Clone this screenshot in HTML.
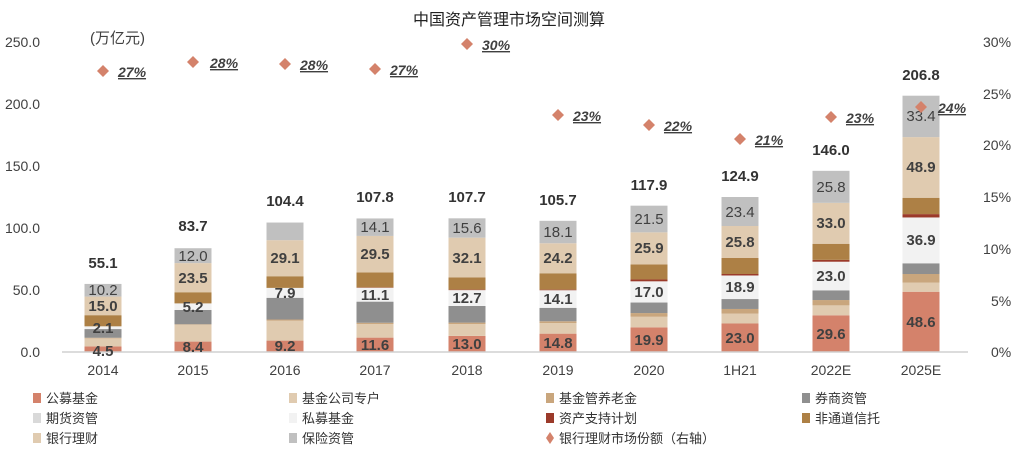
<!DOCTYPE html>
<html><head><meta charset="utf-8"><style>
body{margin:0;background:#fff;}
svg{display:block;font-family:"Liberation Sans","Noto Sans CJK SC",sans-serif;}
.v{font-size:15px;font-weight:bold;fill:#404040;text-anchor:middle;}
.n{font-size:15px;fill:#404040;text-anchor:middle;}
.t{font-size:15px;font-weight:bold;fill:#333;text-anchor:middle;}
.p{font-size:14px;font-weight:bold;font-style:italic;fill:#404040;text-decoration:underline;}
.ax{font-size:14px;fill:#404040;}
.lg{font-size:13px;fill:#333;}
</style></head><body>
<svg id="s" width="1014" height="449" viewBox="0 0 1014 449">
<text x="509" y="25" text-anchor="middle" style="font-size:16px;fill:#222">中国资产管理市场空间测算</text>
<text x="90" y="43" class="ax" style="font-size:15px">(万亿元)</text>
<g id="bars"></g>
<line x1="62" y1="352" x2="968" y2="352" stroke="#d0d0d0" stroke-width="1.5"/>
<g class="ax" text-anchor="end">
<text x="40" y="47">250.0</text><text x="40" y="109">200.0</text><text x="40" y="171">150.0</text>
<text x="40" y="233">100.0</text><text x="40" y="295">50.0</text><text x="40" y="357">0.0</text>
</g>
<g class="ax">
<text x="983" y="47">30%</text><text x="983" y="99">25%</text><text x="983" y="150">20%</text>
<text x="983" y="202">15%</text><text x="983" y="254">10%</text><text x="991" y="306">5%</text><text x="991" y="357">0%</text>
</g>
<g class="ax" text-anchor="middle">
<text x="103" y="375">2014</text><text x="193" y="375">2015</text><text x="285" y="375">2016</text>
<text x="375" y="375">2017</text><text x="467" y="375">2018</text><text x="558" y="375">2019</text>
<text x="649" y="375">2020</text><text x="740" y="375">1H21</text><text x="831" y="375">2022E</text><text x="921" y="375">2025E</text>
</g>
<text x="103" y="356" class="v">4.5</text><text x="103" y="333" class="v">2.1</text><text x="103" y="311" class="v">15.0</text><text x="103" y="295" class="n">10.2</text><text x="103" y="268" class="t">55.1</text>
<text x="193" y="352" class="v">8.4</text><text x="193" y="312" class="v">5.2</text><text x="193" y="283" class="v">23.5</text><text x="193" y="261" class="n">12.0</text><text x="193" y="231" class="t">83.7</text>
<text x="285" y="351" class="v">9.2</text><text x="285" y="298" class="v">7.9</text><text x="285" y="263" class="v">29.1</text><text x="285" y="206" class="t">104.4</text>
<text x="375" y="350" class="v">11.6</text><text x="375" y="300" class="v">11.1</text><text x="375" y="259" class="v">29.5</text><text x="375" y="232" class="n">14.1</text><text x="375" y="202" class="t">107.8</text>
<text x="467" y="349" class="v">13.0</text><text x="467" y="303" class="v">12.7</text><text x="467" y="263" class="v">32.1</text><text x="467" y="233" class="n">15.6</text><text x="467" y="202" class="t">107.7</text>
<text x="558" y="348" class="v">14.8</text><text x="558" y="304" class="v">14.1</text><text x="558" y="263" class="v">24.2</text><text x="558" y="237" class="n">18.1</text><text x="558" y="205" class="t">105.7</text>
<text x="649" y="345" class="v">19.9</text><text x="649" y="297" class="v">17.0</text><text x="649" y="253" class="v">25.9</text><text x="649" y="224" class="n">21.5</text><text x="649" y="190" class="t">117.9</text>
<text x="740" y="343" class="v">23.0</text><text x="740" y="292" class="v">18.9</text><text x="740" y="247" class="v">25.8</text><text x="740" y="217" class="n">23.4</text><text x="740" y="181" class="t">124.9</text>
<text x="831" y="339" class="v">29.6</text><text x="831" y="281" class="v">23.0</text><text x="831" y="228" class="v">33.0</text><text x="831" y="192" class="n">25.8</text><text x="831" y="155" class="t">146.0</text>
<text x="921" y="327" class="v">48.6</text><text x="921" y="245" class="v">36.9</text><text x="921" y="172" class="v">48.9</text><text x="921" y="121" class="n">33.4</text><text x="921" y="80" class="t">206.8</text>
<g id="dia"></g>
<text x="118" y="77" class="p">27%</text><text x="210" y="68" class="p">28%</text><text x="300" y="70" class="p">28%</text>
<text x="390" y="75" class="p">27%</text><text x="482" y="50" class="p">30%</text><text x="573" y="121" class="p">23%</text>
<text x="664" y="131" class="p">22%</text><text x="755" y="145" class="p">21%</text><text x="846" y="123" class="p">23%</text><text x="938" y="113" class="p">24%</text>
<g class="lg">
<rect x="33" y="393" width="8" height="10" fill="#d4826b"/><text x="46" y="403">公募基金</text>
<rect x="289" y="393" width="8" height="10" fill="#e0cbb0"/><text x="302" y="403">基金公司专户</text>
<rect x="546" y="393" width="8" height="10" fill="#c9a67d"/><text x="559" y="403">基金管养老金</text>
<rect x="802" y="393" width="8" height="10" fill="#8f8f8f"/><text x="815" y="403">券商资管</text>
<rect x="33" y="413" width="8" height="10" fill="#d9d9d9"/><text x="46" y="423">期货资管</text>
<rect x="289" y="413" width="8" height="10" fill="#f2f2f2"/><text x="302" y="423">私募基金</text>
<rect x="546" y="413" width="8" height="10" fill="#9b3a2a"/><text x="559" y="423">资产支持计划</text>
<rect x="802" y="413" width="8" height="10" fill="#ad8045"/><text x="815" y="423">非通道信托</text>
<rect x="33" y="433" width="8" height="10" fill="#e0cbb0"/><text x="46" y="443">银行理财</text>
<rect x="289" y="433" width="8" height="10" fill="#c0c0c0"/><text x="302" y="443">保险资管</text>
<path d="M550 432 L554 438 L550 444 L546 438 Z" fill="#d4826b"/><text x="559" y="443">银行理财市场份额（右轴）</text>
</g>
</svg>
<script>
var cols=["#d4826b","#e0cbb0","#c9a67d","#8f8f8f","#d9d9d9","#f2f2f2","#9b3a2a","#ad8045","#e0cbb0","#c0c0c0"];
var xs=[103,193,285,375,467,558,649,740,831,921];
var d=[[4.5,6.5,.5,7,.1,2.1,0,9,15,10.2],[8.4,13.5,.5,11.5,.1,5.2,0,9,23.5,12],[9.2,16,1,17.5,.1,7.9,0,9.4,29.1,14.2],
[11.6,11,1,17,.1,11.1,.3,12,29.5,14.1],[13,9.5,1.2,13.4,.1,12.7,.4,9.8,32.1,15.6],[14.8,8.5,1.5,10.8,.1,14.1,.5,13.2,24.2,18.1],
[19.9,8.5,3,8.5,.1,17,1.5,12.1,25.9,21.5],[23,8,3.7,8,.1,18.9,1.2,12.9,25.8,23.4],[29.6,8,4.3,7.8,.1,23,1.5,13,33,25.8],
[48.6,7.3,7,8.6,.1,36.9,2.7,13.2,48.9,33.4]];
var ns="http://www.w3.org/2000/svg",g=document.getElementById("bars");
d.forEach(function(r,i){var c=0;r.forEach(function(v,j){var y0=352-c*1.24;c+=v;var y1=352-c*1.24;
var e=document.createElementNS(ns,"rect");e.setAttribute("x",xs[i]-18.5);e.setAttribute("width",37);
e.setAttribute("y",y1);e.setAttribute("height",y0-y1);e.setAttribute("fill",cols[j]);g.appendChild(e);});});
var dy=[71,62,64,69,44,115,125,139,117,107],dg=document.getElementById("dia");
xs.forEach(function(x,i){var e=document.createElementNS(ns,"path");var y=dy[i];
e.setAttribute("d","M"+x+" "+(y-6)+"L"+(x+6)+" "+y+"L"+x+" "+(y+6)+"L"+(x-6)+" "+y+"Z");e.setAttribute("fill","#d4826b");dg.appendChild(e);});
</script>
</body></html>
